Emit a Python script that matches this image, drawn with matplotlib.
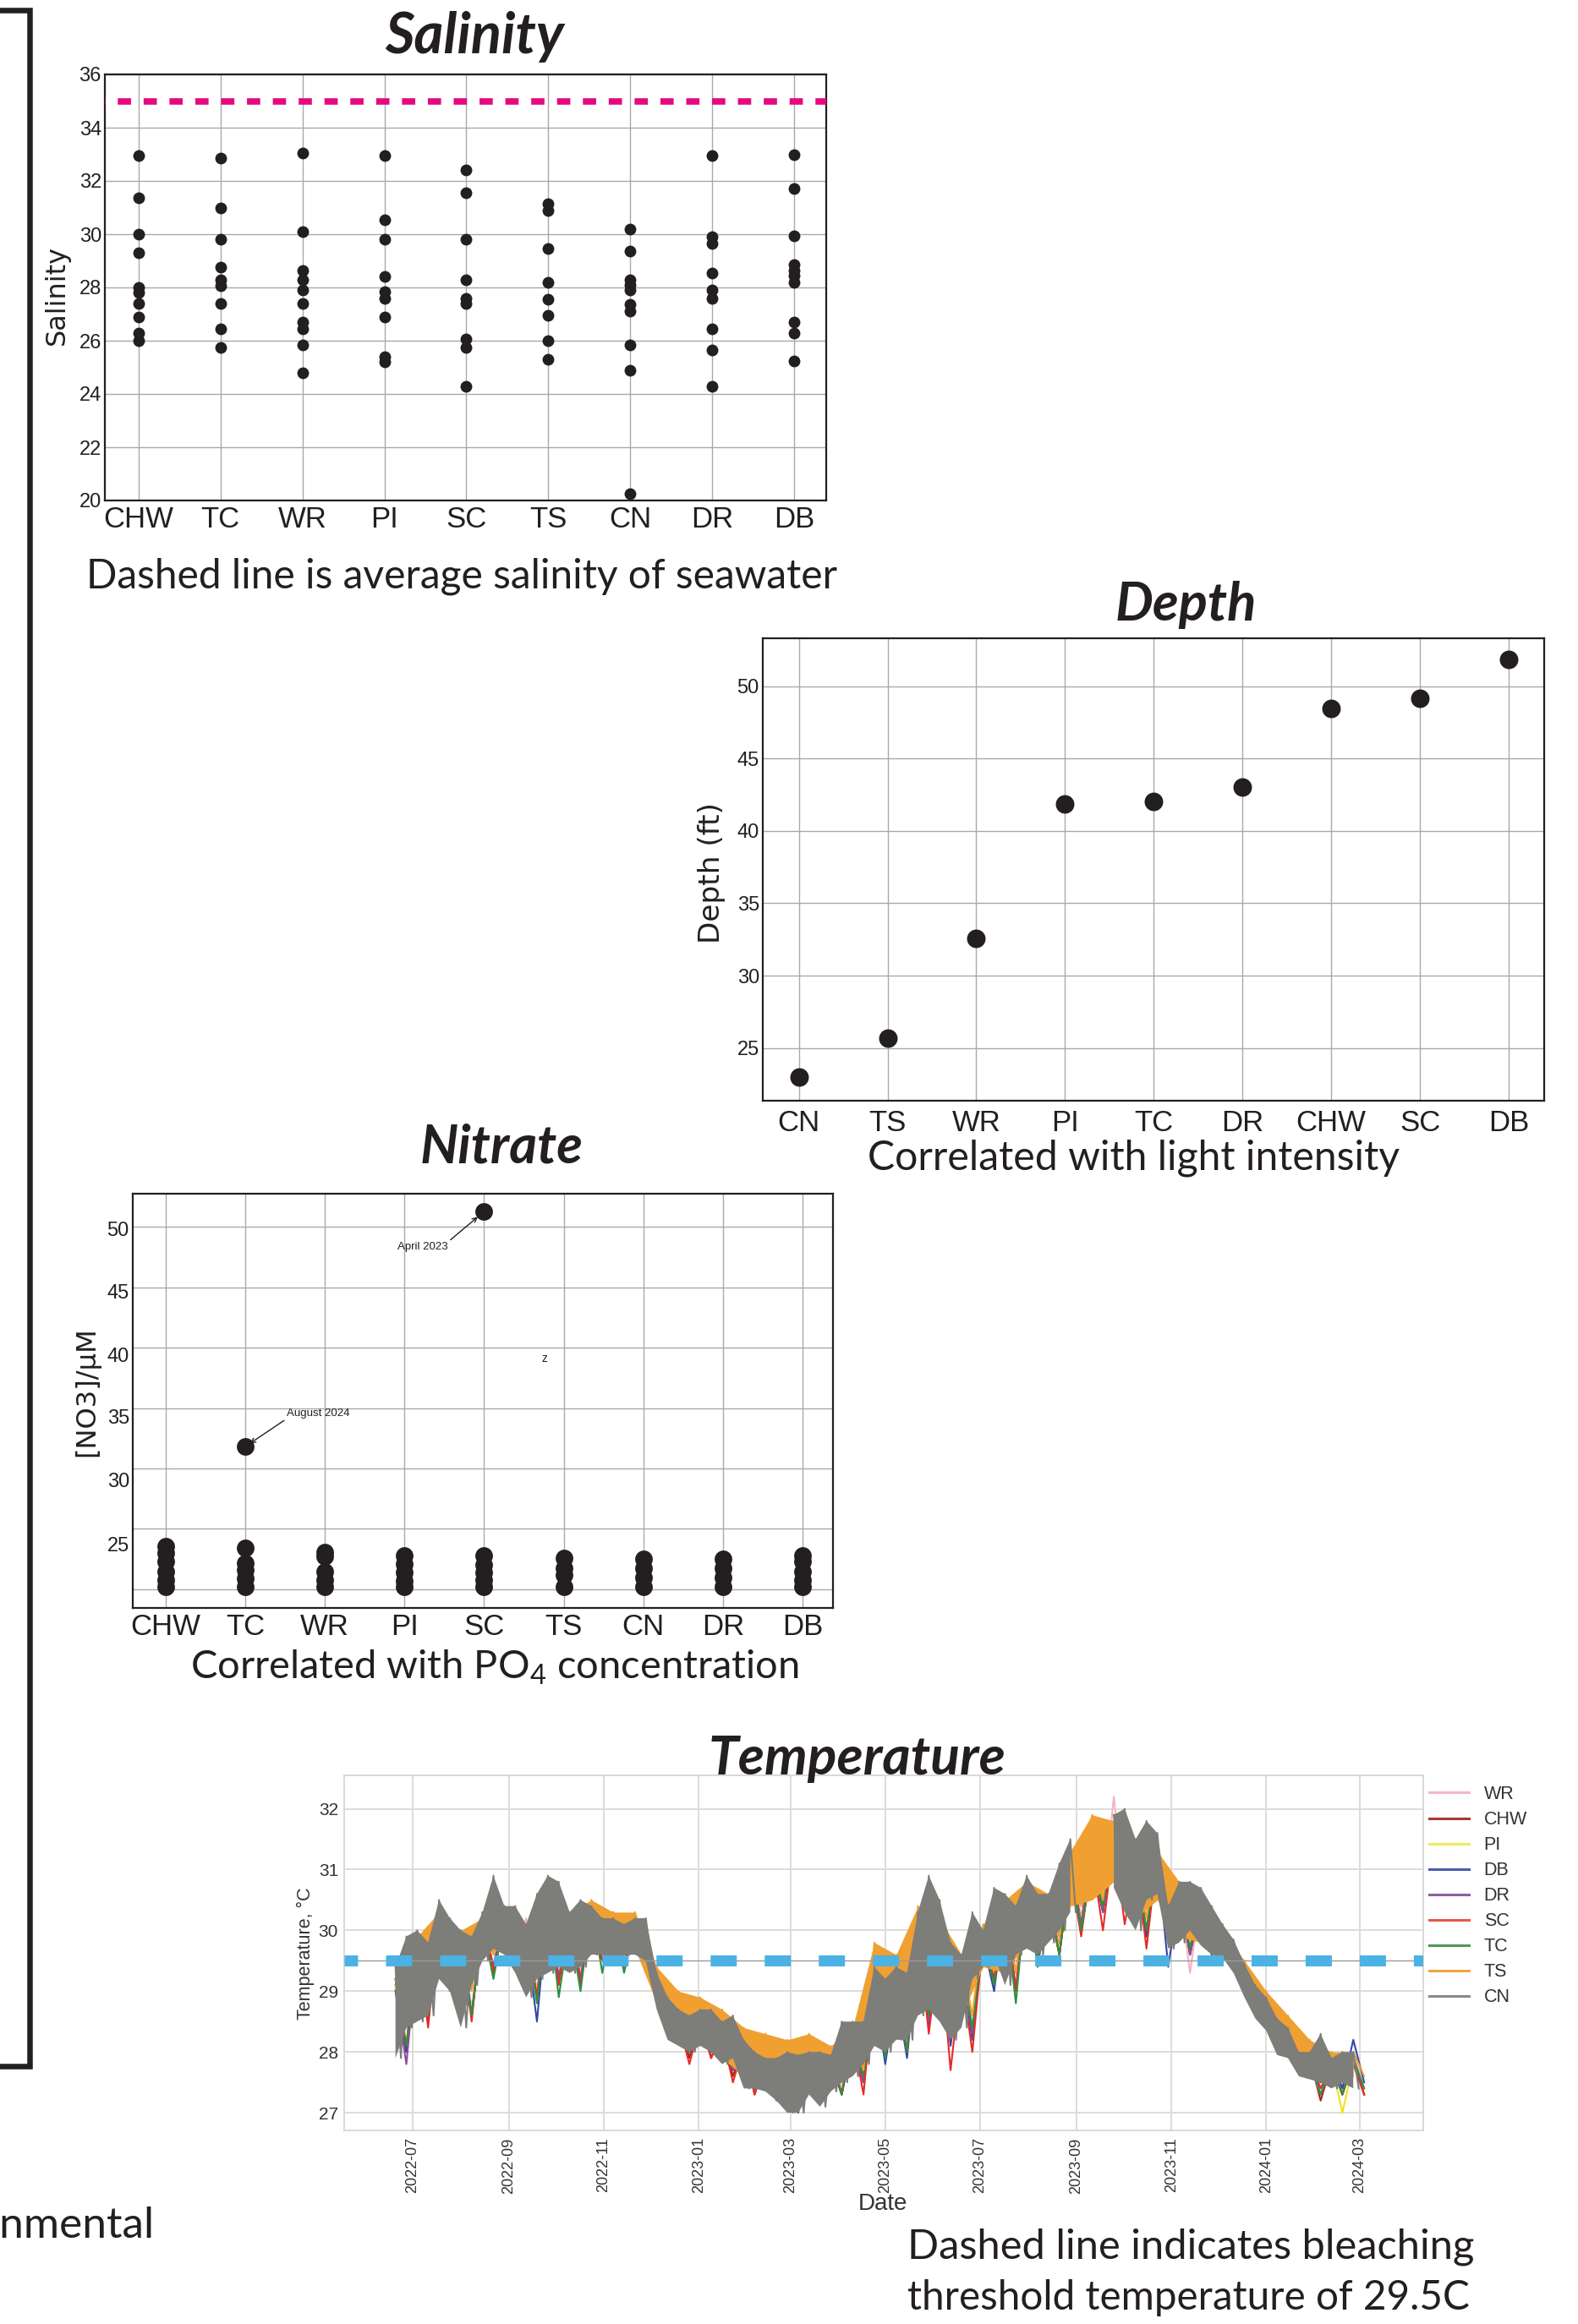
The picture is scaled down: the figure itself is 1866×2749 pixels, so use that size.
import numpy as np
import pandas as pd
import matplotlib
matplotlib.use('Agg')
import matplotlib.pyplot as plt
import matplotlib.dates as mdates
from matplotlib.lines import Line2D

plt.rcParams['font.family'] = ['Liberation Sans', 'DejaVu Sans']
plt.rcParams['mathtext.fontset'] = 'custom'
plt.rcParams['mathtext.rm'] = 'Lato'

# ---------------- DATA ----------------
sal_sites = ['CHW', 'TC', 'WR', 'PI', 'SC', 'TS', 'CN', 'DR', 'DB']
sal_CHW = [32.95, 31.35, 30.0, 29.3, 28.0, 27.8, 27.4, 26.9, 26.3, 26.0]
sal_TC = [32.85, 31.0, 29.8, 28.75, 28.3, 28.05, 27.4, 26.45, 25.75]
sal_WR = [33.05, 30.1, 28.65, 28.3, 27.9, 27.4, 26.7, 26.45, 25.85, 24.8]
sal_PI = [32.95, 30.55, 29.8, 28.4, 27.85, 27.6, 26.9, 25.4, 25.2]
sal_SC = [32.4, 31.55, 29.8, 28.3, 27.6, 27.4, 26.05, 25.75, 24.3]
sal_TS = [31.15, 30.9, 29.45, 28.2, 27.55, 26.95, 26.0, 25.3]
sal_CN = [30.2, 29.35, 28.3, 28.1, 27.9, 27.35, 27.1, 25.85, 24.9, 20.25]
sal_DR = [32.95, 29.9, 29.65, 28.55, 27.9, 27.6, 26.45, 25.65, 24.3]
sal_DB = [33.0, 31.7, 29.95, 28.85, 28.65, 28.45, 28.2, 26.7, 26.3, 25.25]
seawater_salinity = 35.0

depth_sites = ['CN', 'TS', 'WR', 'PI', 'TC', 'DR', 'CHW', 'SC', 'DB']
depth_ft = [23.0, 25.7, 32.55, 41.85, 42.05, 43.0, 48.45, 49.15, 51.85]

nit_sites = ['CHW', 'TC', 'WR', 'PI', 'SC', 'TS', 'CN', 'DR', 'DB']
nit_CHW = [23.6, 23.0, 22.3, 21.5, 20.8, 20.2]
nit_TC = [23.4, 22.2, 21.6, 20.9, 20.2, 31.8]
nit_WR = [23.1, 22.7, 21.5, 20.8, 20.2]
nit_PI = [22.8, 22.1, 21.4, 20.7, 20.2]
nit_SC = [22.8, 22.0, 21.4, 20.75, 20.2, 51.25]
nit_TS = [22.6, 21.75, 21.2, 20.2]
nit_CN = [22.5, 21.75, 20.95, 20.2]
nit_DR = [22.5, 21.75, 20.95, 20.2]
nit_DB = [22.8, 22.3, 21.5, 20.8, 20.2]
nit_tick_labels = ['50', '45', '40', '35', '30', '25']

# temperature: weekly envelope (high / low) for CN, biweekly for the others
weekly_dates = pd.date_range('2022-06-20', periods=89, freq='7D')
biweekly_dates = pd.date_range('2022-06-20', periods=45, freq='14D')
nan = np.nan
cn_hi = [29.4, 29.9, 30.0, 29.8, 30.5, 30.2, 30.0, 29.9, 30.3, 30.9,
         30.4, 30.4, 30.1, 30.6, 30.9, 30.8, 30.3, 30.5, 30.4, 30.2,
         30.2, 30.1, 30.2, 30.2, 29.3, 28.9, 28.7, 28.6, 28.7, 28.7,
         28.5, 28.6, 28.2, 28.0, 27.9, 27.9, 28.0, 27.95, 28.0, 28.0,
         27.95, 28.5, 28.5, 28.5, 29.4, 29.2, 29.4, 29.3, 30.3, 30.9,
         30.5, 29.8, 29.6, 30.3, 30.0, 30.7, 30.6, 30.4, 30.9, 30.6,
         30.6, 31.1, 31.5, nan, nan, nan, 31.9, 32.0, 31.5, 31.8,
         31.6, 30.4, 30.8, 30.8, 30.7, 30.4, 30.1, 29.85, 29.45, 29.1,
         28.9, 28.55, 28.4, 28.0, 28.0, 28.3, 27.9, 28.0, 28.0]
cn_lo = [27.9, 28.4, 28.5, 28.6, 29.2, 29.0, 28.4, 29.1, 29.5, 29.7,
         29.6, 29.3, 28.9, 29.2, 29.3, 29.4, 29.3, 29.4, 29.6, 29.6,
         29.5, 29.6, 29.6, 29.5, 28.7, 28.2, 28.1, 28.0, 28.1, 28.0,
         27.8, 27.9, 27.4, 27.4, 27.35, 27.2, 27.0, 27.0, 27.3, 27.1,
         27.35, 27.5, 27.6, 27.8, 28.1, 28.0, 28.2, 28.2, 28.6, 28.7,
         28.5, 28.2, 28.4, 29.2, 29.4, 29.6, 29.1, 29.6, 29.7, 29.6,
         29.8, 30.0, 30.3, nan, nan, nan, 30.7, 30.3, 30.0, 30.5,
         30.6, 29.7, 29.8, 30.0, 29.75, 29.6, 29.55, 29.3, 28.9, 28.55,
         28.35, 27.95, 27.9, 27.6, 27.55, 27.5, 27.4, 27.5, 27.4]
ts_hi = [29.2, 29.9, 30.3, 30.0, 30.2, 30.4, 30.1, 30.6, 30.3, 30.5, 30.3, 30.3,
         29.4, 29.0, 28.9, 28.7, 28.4, 28.3, 28.2, 28.3, 28.1, 28.4,
         29.8, 29.6, 30.4, 30.2, 29.6, 30.1, 30.5, 30.8, 30.6, 31.3, 31.9,
         31.8, 31.3, 31.3, 30.8, 30.6, 30.0, 29.5, 29.0, 28.6, 28.2, 28.0, 28.0]
ts_lo = [28.4, 28.7, 29.3, 29.0, 29.6, 29.7, 29.3, 29.5, 29.5, 29.7, 29.6, 29.7,
         28.8, 28.3, 28.2, 27.9, 27.6, 27.5, 27.4, 27.5, 27.5, 27.7,
         28.4, 28.4, 28.9, 28.8, 28.6, 29.4, 29.3, 29.8, 29.9, 30.4, 30.5,
         30.8, 30.2, 30.5, 29.9, 29.8, 29.6, 29.0, 28.5, 28.0, 27.7, 27.5, 27.6]
sc_hi = [29.2, 29.8, 30.3, 29.9, 30.3, 30.3, 30.0, 30.6, 30.2, 30.3, 30.1, 30.1,
         29.2, 28.5, 28.5, 28.3, 28.1, 27.9, 27.9, 27.9, 27.9, 28.3,
         29.2, 29.1, 30.0, 29.8, 29.3, 29.9, 30.4, 30.7, 30.5, 31.0, 31.2,
         31.5, 31.2, 31.3, 30.6, 30.5, 30.0, 29.4, 28.8, 28.3, 27.9, 27.8, 27.9]
sc_lo = [28.1, 28.4, 29.1, 28.5, 29.3, 29.4, 28.9, 29.1, 29.1, 29.5, 29.4, 29.5,
         28.5, 27.8, 27.9, 27.5, 27.3, 27.3, 27.1, 27.3, 27.3, 27.3,
         28.0, 28.0, 28.3, 27.7, 28.0, 29.2, 29.0, 29.6, 29.6, 29.9, 30.0,
         30.1, 29.7, 30.2, 29.7, 29.6, 29.4, 28.8, 28.2, 27.8, 27.4, 27.3, 27.3]
chw_hi = [29.1, 29.8, 30.3, 29.9, 30.2, 30.3, 30.0, 30.5, 30.2, 30.3, 30.1, 30.1,
          29.2, 28.6, 28.6, 28.4, 28.1, 27.9, 27.9, 27.9, 27.9, 28.3,
          29.2, 29.2, 30.1, 30.0, 29.4, 29.9, 30.4, 30.7, 30.5, 31.2, 31.4,
          31.6, 31.3, 31.4, 30.6, 30.5, 30.0, 29.3, 28.7, 28.2, 27.9, 27.8, 27.9]
chw_lo = [28.0, 28.5, 29.1, 28.6, 29.4, 29.5, 28.9, 29.2, 29.2, 29.5, 29.5, 29.5,
          28.6, 27.9, 27.9, 27.6, 27.3, 27.3, 27.1, 27.3, 27.3, 27.5,
          28.0, 28.1, 28.5, 28.2, 28.3, 29.3, 29.0, 29.6, 29.7, 30.1, 30.3,
          30.4, 29.9, 30.3, 29.7, 29.6, 29.4, 28.8, 28.0, 27.7, 27.2, 27.3, 27.3]
db_hi = [29.2, 29.8, 30.2, 29.8, 30.1, 30.2, 29.9, 30.5, 30.1, 30.2, 30.0, 30.0,
         29.2, 28.6, 28.5, 28.3, 28.0, 27.8, 27.9, 27.9, 27.9, 28.2,
         29.0, 29.0, 29.8, 29.9, 29.4, 29.8, 30.4, 30.6, 30.5, 31.0, 31.1,
         31.5, 31.2, 31.2, 30.6, 30.5, 30.0, 29.4, 28.8, 28.3, 27.9, 27.9, 28.2]
db_lo = [28.0, 28.5, 29.2, 28.6, 29.4, 29.5, 28.5, 29.2, 29.2, 29.5, 29.4, 29.5,
         28.6, 28.0, 28.0, 27.7, 27.4, 27.3, 27.0, 27.3, 27.3, 27.5,
         27.8, 27.9, 28.4, 28.1, 28.2, 29.0, 29.0, 29.5, 29.6, 30.0, 30.3,
         30.6, 29.9, 29.4, 29.6, 29.7, 29.5, 28.9, 28.3, 27.9, 27.5, 27.4, 27.5]
tc_hi = [29.0, 29.7, 30.2, 29.9, 30.1, 30.2, 30.0, 30.5, 30.1, 30.4, 30.3, 30.1,
         29.2, 28.6, 28.6, 28.4, 28.1, 27.9, 27.9, 27.9, 27.9, 28.3,
         29.1, 29.1, 30.0, 30.1, 29.5, 29.9, 30.4, 30.8, 30.5, 31.0, 31.1,
         31.6, 31.2, 31.3, 30.6, 30.6, 30.0, 29.3, 28.8, 28.3, 27.9, 27.8, 27.9]
tc_lo = [28.1, 28.6, 29.0, 28.6, 29.2, 29.4, 28.8, 28.9, 29.0, 29.3, 29.3, 29.3,
         28.6, 28.0, 28.0, 27.8, 27.4, 27.3, 27.1, 27.3, 27.3, 27.6,
         27.9, 28.0, 28.6, 28.4, 28.4, 29.1, 28.8, 29.4, 29.6, 30.0, 30.4,
         30.5, 30.0, 30.4, 29.7, 29.6, 29.5, 28.8, 28.2, 27.8, 27.3, 27.3, 27.4]
wr_hi = [29.5, 30.0, 30.4, 30.0, 30.2, 30.4, 30.2, 30.7, 30.3, 30.5, 30.3, 30.2,
         29.3, 28.7, 28.8, 28.5, 28.2, 28.0, 28.1, 28.1, 28.0, 28.4,
         29.3, 29.3, 30.2, 30.2, 29.6, 30.1, 30.5, 30.8, 30.6, 31.3, 31.6,
         32.2, 31.4, 31.4, 30.7, 30.6, 30.0, 29.4, 28.9, 28.5, 28.0, 27.9, 28.0]
wr_lo = [28.1, 28.6, 29.2, 28.7, 29.4, 29.6, 29.0, 29.3, 29.3, 29.6, 29.5, 29.5,
         28.7, 28.1, 28.1, 27.9, 27.5, 27.4, 27.2, 27.4, 27.4, 27.6,
         28.1, 28.2, 28.6, 28.6, 28.4, 29.4, 29.2, 29.7, 29.8, 30.2, 30.4,
         30.6, 30.0, 30.4, 29.3, 29.7, 29.5, 28.9, 28.3, 27.9, 27.5, 27.4, 27.4]
pi_hi = [29.1, 29.7, 30.2, 29.8, 30.1, 30.2, 29.9, 30.4, 30.1, 30.2, 30.0, 30.0,
         29.1, 28.6, 28.5, 28.3, 28.0, 27.8, 27.9, 27.9, 27.8, 28.2,
         29.1, 29.1, 29.9, 29.9, 29.3, 29.8, 30.3, 30.6, 30.4, 31.0, 31.2,
         31.5, 31.1, 31.2, 30.5, 30.4, 29.9, 29.2, 28.7, 28.2, 27.8, 27.8, 27.8]
pi_lo = [28.1, 28.6, 29.2, 28.6, 29.4, 29.5, 28.9, 29.2, 29.2, 29.5, 29.4, 29.5,
         28.6, 28.0, 28.0, 27.7, 27.4, 27.3, 27.1, 27.3, 27.3, 27.5,
         28.0, 28.1, 28.5, 28.4, 28.3, 29.3, 29.0, 29.6, 29.7, 30.1, 30.4,
         30.6, 30.0, 30.4, 29.6, 29.6, 29.4, 28.6, 28.2, 27.8, 27.3, 27.0, 27.3]
dr_hi = [29.0, 29.7, 30.1, 29.8, 30.1, 30.2, 29.9, 30.4, 30.1, 30.3, 30.0, 30.0,
         29.1, 28.6, 28.5, 28.3, 28.0, 27.8, 27.9, 27.9, 27.8, 28.2,
         29.1, 29.0, 29.9, 29.9, 29.4, 29.8, 30.3, 30.7, 30.4, 31.0, 31.2,
         31.5, 31.2, 31.2, 30.6, 30.4, 30.0, 29.3, 28.7, 28.2, 27.8, 27.8, 27.8]
dr_lo = [27.8, 28.5, 29.1, 28.6, 29.4, 29.5, 28.9, 29.2, 29.2, 29.5, 29.4, 29.5,
         28.6, 28.0, 28.0, 27.7, 27.4, 27.2, 27.1, 27.3, 27.3, 27.5,
         28.0, 28.0, 28.5, 28.3, 28.3, 29.2, 29.0, 29.5, 29.6, 30.1, 30.3,
         30.5, 30.0, 30.3, 29.6, 29.6, 29.4, 28.8, 28.2, 27.8, 27.3, 27.3, 27.3]
bleaching_threshold = 29.5

# ---------------- LAYOUT HELPERS ----------------
W, H = 1866, 2749
DPI = 100
fig = plt.figure(figsize=(W / DPI, H / DPI), dpi=DPI)
fig.patch.set_facecolor('white')
INK = '#231F20'


def fx(px):
    return px / W


def fy(py):
    return 1 - py / H


def add_ax(l, t, r, b):
    return fig.add_axes([fx(l), fy(b), (r - l) / W, (b - t) / H])


def fit_text(x, y, s, width=None, height=None, ha='center', va='baseline', fs0=30, **kw):
    t = fig.text(fx(x), fy(y), s, ha=ha, va=va, fontsize=fs0, **kw)
    r = fig.canvas.get_renderer()
    bb = t.get_window_extent(renderer=r)
    if width is not None:
        t.set_fontsize(fs0 * width / bb.width)
    elif height is not None:
        t.set_fontsize(fs0 * height / bb.height)
    return t


def style_cat_axes(ax):
    for sp in ax.spines.values():
        sp.set_color(INK)
        sp.set_linewidth(1.6)
    ax.grid(True, color='#A9A9A9', lw=1.0)
    ax.set_axisbelow(True)
    ax.tick_params(length=0)
    ax.tick_params(axis='x', labelsize=25, pad=4, labelcolor=INK)
    ax.tick_params(axis='y', labelsize=17, pad=3, labelcolor=INK)


TITLE_KW = dict(family=['Lato', 'DejaVu Sans'], weight='bold', style='italic', color=INK)
CAP_KW = dict(family=['Lato', 'DejaVu Sans'], color=INK)
YL_KW = dict(family=['DejaVu Sans'], color=INK, rotation=90)

# ---------------- SALINITY ----------------
ax1 = add_ax(124, 88, 977, 592)
sal_lists = [sal_CHW, sal_TC, sal_WR, sal_PI, sal_SC, sal_TS, sal_CN, sal_DR, sal_DB]
for site, vals in zip(sal_sites, sal_lists):
    ax1.scatter([site] * len(vals), vals, s=100, color=INK, zorder=3, linewidths=0)
ax1.axhline(seawater_salinity, color='#E4097E', lw=5.5, linestyle=(2.0, (2.05, 1.95)), zorder=4)
ax1.set_xlim(-0.41, 8.39)
ax1.set_ylim(20, 36)
ax1.set_yticks(np.arange(20, 37, 2))
style_cat_axes(ax1)
fit_text(561, 63, 'Salinity', width=212, **TITLE_KW)
fit_text(67, 349, 'Salinity', height=118, ha='center', va='center', **YL_KW)
fit_text(102, 695, 'Dashed line is average salinity of seawater', width=888, ha='left', **CAP_KW)

# ---------------- DEPTH ----------------
ax2 = add_ax(902, 755, 1826, 1302)
ax2.scatter(depth_sites, depth_ft, s=250, color=INK, zorder=3, linewidths=0)
ax2.set_xlim(-0.406, 8.4)
ax2.set_ylim(21.36, 53.3)
ax2.set_yticks([25, 30, 35, 40, 45, 50])
style_cat_axes(ax2)
ax2.tick_params(axis='x', pad=7)
fit_text(1402, 734, 'Depth', width=167, **TITLE_KW)
fit_text(841, 1032, 'Depth (ft)', height=167, ha='center', va='center', **YL_KW)
fit_text(1340, 1383, 'Correlated with light intensity', width=629, **CAP_KW)

# ---------------- NITRATE ----------------
ax3 = add_ax(157, 1412, 985, 1902)
nit_lists = [nit_CHW, nit_TC, nit_WR, nit_PI, nit_SC, nit_TS, nit_CN, nit_DR, nit_DB]
for site, vals in zip(nit_sites, nit_lists):
    ax3.scatter([site] * len(vals), vals, s=225, color=INK, zorder=3, linewidths=0)
ax3.set_xlim(-0.41, 8.38)
ax3.set_ylim(18.46, 52.73)
ax3.set_yticks([20, 25, 30, 35, 40, 45, 50], labels=[''] * 7)
# hand-placed tick labels of the original panel
ax3.set_yticks([49.86, 44.62, 39.44, 34.33, 29.09, 23.71], labels=nit_tick_labels, minor=True)
style_cat_axes(ax3)
ax3.tick_params(which='minor', length=0, labelsize=17, pad=3, labelcolor=INK)
ax3.grid(False, which='minor')
ax3.annotate('April 2023', xy=(nit_sites.index('SC'), max(nit_SC)), xytext=(-52, -30),
             textcoords='offset points', ha='center', va='center', fontsize=9.5,
             family=['Liberation Sans Narrow', 'Liberation Sans'], color=INK,
             arrowprops=dict(arrowstyle='->', color=INK, lw=1.0, relpos=(1.0, 1.0),
                             shrinkA=0, shrinkB=7))
ax3.annotate('August 2024', xy=(nit_sites.index('TC'), max(nit_TC)), xytext=(62, 28),
             textcoords='offset points', ha='center', va='center', fontsize=9.5,
             family=['Liberation Sans Narrow', 'Liberation Sans'], color=INK,
             arrowprops=dict(arrowstyle='->', color=INK, lw=1.0, relpos=(0.0, 0.0),
                             shrinkA=0, shrinkB=5))
fig.text(fx(644), fy(1607), 'z', ha='center', va='center', fontsize=10, color=INK)
fit_text(593, 1376, 'Nitrate', width=193, **TITLE_KW)
fit_text(103, 1646, '[NO3]/µM', height=154, ha='center', va='center', **YL_KW)
fit_text(585, 1986, r'Correlated with PO$\mathregular{_4}$ concentration', width=720, **CAP_KW)

# ---------------- TEMPERATURE ----------------
ax4 = add_ax(407, 2100, 1683, 2520)
# (name, colour, dates, high, low, filled band)
temp_series = [
    ('WR', '#F4B4C2', biweekly_dates, wr_hi, wr_lo, False),
    ('CHW', '#A8221F', biweekly_dates, chw_hi, chw_lo, False),
    ('PI', '#F2E21E', biweekly_dates, pi_hi, pi_lo, False),
    ('DB', '#3446A8', biweekly_dates, db_hi, db_lo, False),
    ('DR', '#8A4E9A', biweekly_dates, dr_hi, dr_lo, False),
    ('SC', '#E52A25', biweekly_dates, sc_hi, sc_lo, False),
    ('TC', '#2F8F3F', biweekly_dates, tc_hi, tc_lo, False),
    ('TS', '#F0A030', biweekly_dates, ts_hi, ts_lo, True),
    ('CN', '#7D7D79', weekly_dates, cn_hi, cn_lo, True),
]
legend_colors = {'WR': '#F4B8C4', 'CHW': '#A33A36', 'PI': '#F3EA5A', 'DB': '#4A5BB0',
                 'DR': '#8E5E9C', 'SC': '#E8574C', 'TC': '#4C9A57', 'TS': '#F2A541',
                 'CN': '#8A8A8A'}
handles = []
for i, (name, col, d, hi, lo, filled) in enumerate(temp_series):
    z = 2 + 0.1 * i
    hi = np.asarray(hi, float)
    lo = np.asarray(lo, float)
    half = (d[1] - d[0]) / 2
    xs = np.empty(2 * len(d), dtype='datetime64[ns]')
    xs[0::2] = d.values
    xs[1::2] = (d + half).values
    ys = np.empty(2 * len(d))
    ys[0::2] = hi
    ys[1::2] = lo
    if filled:
        ax4.fill_between(d, lo, hi, color=col, lw=0, zorder=z)
    ax4.plot(xs, ys, color=col, lw=1.5, zorder=z + 0.05)
    handles.append(Line2D([], [], color=legend_colors[name], lw=2.2, label=name))
ax4.axhline(bleaching_threshold, color='#9A9A9A', lw=1.0, zorder=5)
ax4.axhline(bleaching_threshold, color='#4BB2E3', lw=9.4, linestyle=(1.15, (2.37, 2.53)),
            zorder=6)
ax4.set_xlim(pd.Timestamp('2022-05-18'), pd.Timestamp('2024-04-11'))
ax4.set_ylim(26.71, 32.55)
ax4.set_yticks([27, 28, 29, 30, 31, 32])
ax4.xaxis.set_major_locator(mdates.MonthLocator(bymonth=(1, 3, 5, 7, 9, 11)))
ax4.xaxis.set_major_formatter(mdates.DateFormatter('%Y-%m'))
ax4.grid(True, color='#DCDCDC', lw=1.4)
ax4.set_axisbelow(True)
for sp in ax4.spines.values():
    sp.set_color('#D8D8D8')
    sp.set_linewidth(1.4)
ax4.tick_params(length=0, colors='#333333')
ax4.tick_params(axis='x', labelrotation=90, labelsize=13, pad=6)
ax4.tick_params(axis='y', labelsize=15, pad=5)
for lbl in ax4.get_yticklabels():
    lbl.set_family(['Liberation Sans Narrow', 'Liberation Sans'])
fig.legend(handles=handles, loc='upper left', bbox_to_anchor=(fx(1690), fy(2112)),
           frameon=False, fontsize=15.5, handlelength=2.2, handletextpad=0.8,
           labelspacing=0.42, borderpad=0, borderaxespad=0, labelcolor='#333333')
fig.text(fx(361), fy(2311), 'Temperature, °C', rotation=90, ha='center', va='center',
         fontsize=15.5, color='#333333')
fig.text(fx(1044), fy(2607), 'Date', ha='center', va='center', fontsize=20,
         family=['Liberation Sans Narrow', 'Liberation Sans'], color='#333333')
fit_text(1014, 2099, 'Temperature', width=351, **TITLE_KW)
fit_text(1073, 2671, 'Dashed line indicates bleaching', width=670, ha='left', **CAP_KW)
fit_text(1073, 2732, 'threshold temperature of 29.5C', width=664, ha='left', **CAP_KW)

# ---------------- BRACKET & SIDE LABEL ----------------
fig.add_artist(Line2D([fx(0), fx(35), fx(35), fx(0)], [fy(12), fy(12), fy(2444), fy(2444)],
                      color=INK, lw=4.7, solid_joinstyle='miter'))
fig.text(fx(182), fy(2647), 'Environmental', ha='right', va='baseline', fontsize=37,
         family=['Lato', 'DejaVu Sans'], color=INK)

fig.savefig('out.png', dpi=DPI, facecolor='white')
